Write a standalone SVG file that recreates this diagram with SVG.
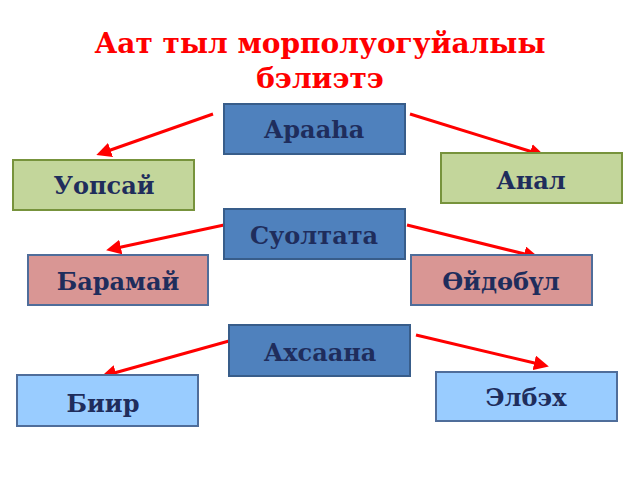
<svg xmlns="http://www.w3.org/2000/svg" width="640" height="480" viewBox="0 0 640 480">
<style>
.t{font-family:"DejaVu Serif",serif;font-weight:bold;fill:#1f2d5c;font-size:24px;text-anchor:middle}
.blue{fill:#4f81bd;stroke:#385d8a;stroke-width:2}
.green{fill:#c3d69b;stroke:#77933c;stroke-width:2}
.pink{fill:#d99694;stroke:#4f6d9a;stroke-width:2}
.lb{fill:#99ccff;stroke:#4f6d9a;stroke-width:2}
.c line{stroke:#ff0000;stroke-width:3;marker-end:url(#a)}
</style>
<defs><marker id="a" markerWidth="5" markerHeight="5" refX="3" refY="2.5" orient="auto"><path d="M0,0L5,2.5L0,5z" fill="#ff0000"/></marker></defs>
<rect width="640" height="480" fill="#fff"/>
<text x="320" y="53" font-family="DejaVu Serif,serif" font-weight="bold" font-size="28" fill="#ff0000" text-anchor="middle">Аат тыл морполуогуйалыы</text>
<text x="320" y="88" font-family="DejaVu Serif,serif" font-weight="bold" font-size="28" fill="#ff0000" text-anchor="middle">бэлиэтэ</text>
<g class="c">
<line x1="213" y1="114" x2="102" y2="153"/>
<line x1="410" y1="114" x2="539" y2="154"/>
<line x1="224" y1="225" x2="112" y2="249"/>
<line x1="407" y1="225" x2="533" y2="256"/>
<line x1="229" y1="341" x2="107" y2="375"/>
<line x1="416" y1="335" x2="543" y2="365"/>
</g>
<g id="n1"><rect class="blue" x="224" y="104" width="181" height="50"/><text class="t" x="314" y="138">Арааһа</text></g>
<g id="n2"><rect class="green" x="441" y="153" width="181" height="50"/><text class="t" x="531" y="189">Анал</text></g>
<g id="n3"><rect class="green" x="13" y="160" width="181" height="50"/><text class="t" x="104" y="194">Уопсай</text></g>
<g id="n4"><rect class="blue" x="224" y="209" width="181" height="50"/><text class="t" x="314" y="244">Суолтата</text></g>
<g id="n5"><rect class="pink" x="28" y="255" width="180" height="50"/><text class="t" x="118" y="290">Барамай</text></g>
<g id="n6"><rect class="pink" x="411" y="255" width="181" height="50"/><text class="t" x="501" y="290">Өйдөбүл</text></g>
<g id="n7"><rect class="blue" x="229" y="325" width="181" height="51"/><text class="t" x="320" y="361">Ахсаана</text></g>
<g id="n8"><rect class="lb" x="436" y="372" width="181" height="49"/><text class="t" x="526" y="406">Элбэх</text></g>
<g id="n9"><rect class="lb" x="17" y="375" width="181" height="51"/><text class="t" x="103" y="412">Биир</text></g>
</svg>
